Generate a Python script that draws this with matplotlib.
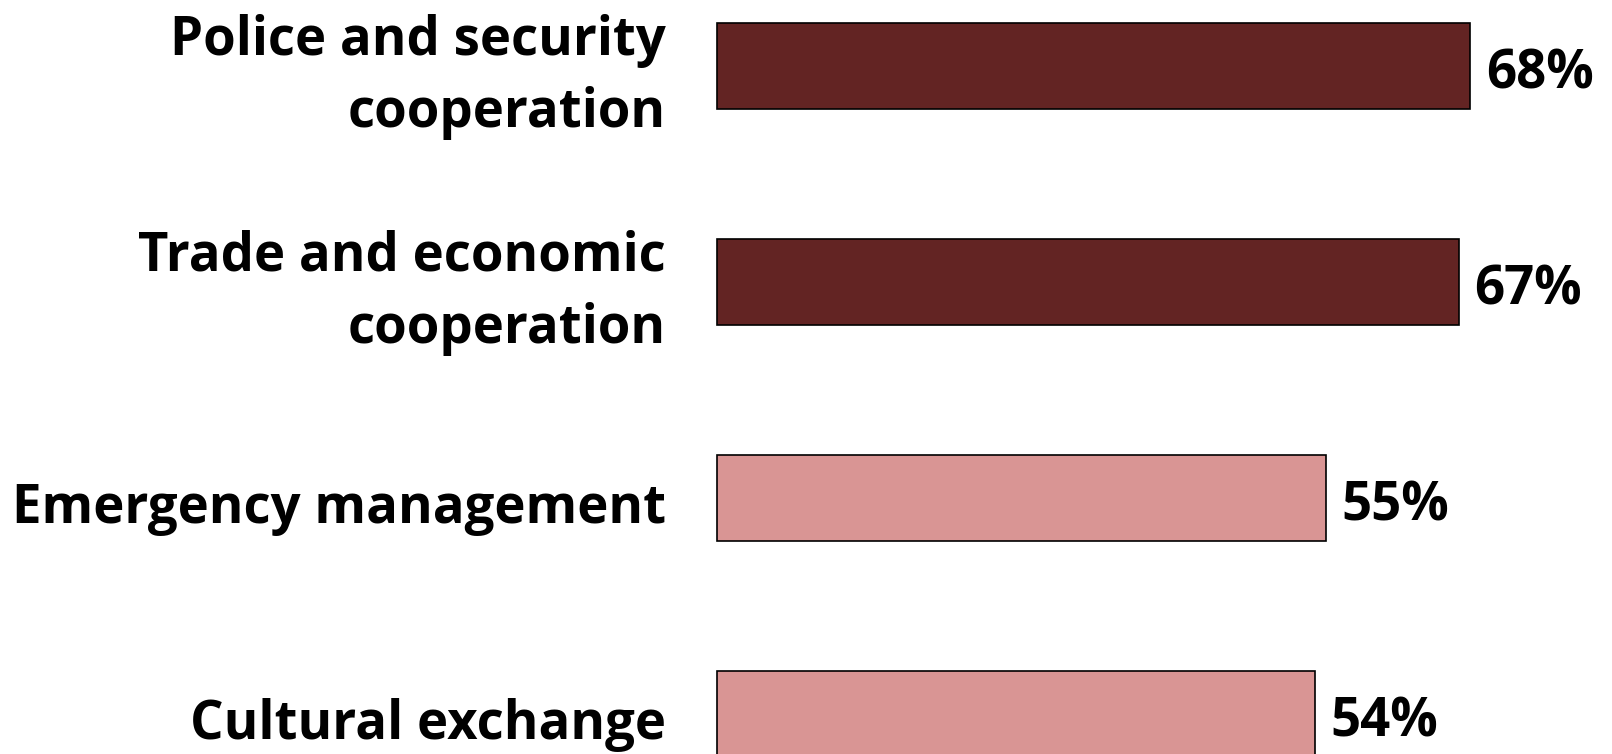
import matplotlib.pyplot as plt

categories = ['Police and security\ncooperation',
              'Trade and economic\ncooperation',
              'Emergency management',
              'Cultural exchange']
values = [68, 67, 55, 54]
colors = ['#632423', '#632423', '#D99594', '#D99594']

plt.rcParams['font.family'] = ['Open Sans', 'DejaVu Sans']

fig = plt.figure(figsize=(16.12, 7.54), dpi=100)
ax = fig.add_axes([0, 0, 1, 1])

ypos = list(range(len(values)))
ax.barh(ypos, values, height=0.4, color=colors, edgecolor='black', linewidth=1.2)

for y, v, lab in zip(ypos, values, categories):
    ax.text(v + 1.4, y + 0.04, f'{v}%', ha='left', va='center',
            fontsize=38, fontweight='bold')
    ax.text(-4.6, y + 0.05, lab, ha='right', va='center',
            fontsize=38, fontweight='bold', linespacing=1.45)

ax.set_xlim(-64.7, 80.8)
ax.set_ylim(3.185, -0.306)
ax.axis('off')

fig.savefig('out.png', dpi=100)
